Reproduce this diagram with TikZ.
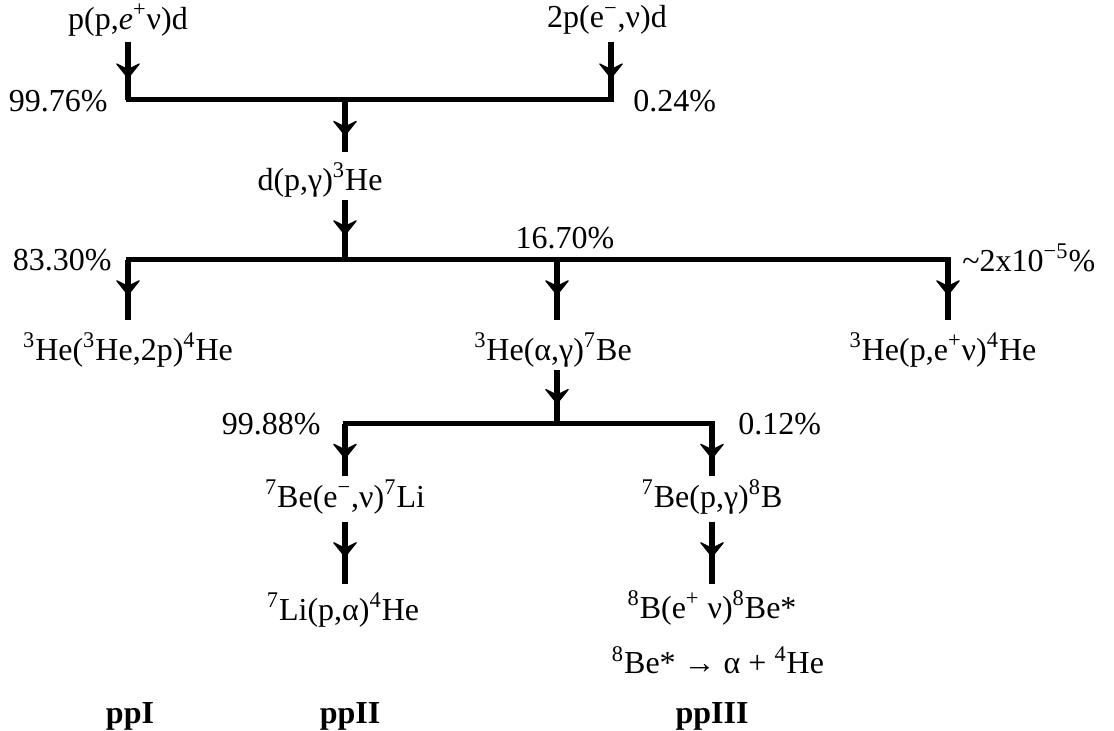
\documentclass[tikz,border=0pt]{standalone}
\usepackage{fontspec}
\setmainfont{Liberation Serif}
\usetikzlibrary{decorations.markings}
\newcommand{\sps}[1]{\textsuperscript{#1}}
\begin{document}
\begin{tikzpicture}[x=0.5pt,y=-0.5pt,
  txt/.style={inner sep=1pt,font=\fontsize{16}{19}\selectfont},
  lbl/.style={txt},
  chain/.style={line width=2.5pt,line cap=rect},
  flow/.style={line width=2.6pt,
    decoration={markings,mark=at position #1 with {
      \filldraw[line width=0.6pt,line join=round]
        (0pt,0pt) -- (-7pt,5.6pt) -- (-4.2pt,0pt) -- (-7pt,-5.6pt) -- cycle;}},
    postaction={decorate}},
  flow/.default=0.6,
  tag/.style={font=\fontsize{16}{19}\selectfont\bfseries}]
\useasboundingbox (0,0) rectangle (1114,731);

% reactions
\node[txt] (pp)   at (128,20)  {p(p,\textit{e}\sps{+}ν)d};
\node[txt] (pep)  at (607,20)  {2p(e\sps{−},ν)d};
\node[txt] (dpg)  at (320,180) {d(p,γ)\sps{3}He};
\node[txt] (he33) at (128,350) {\sps{3}He(\sps{3}He,2p)\sps{4}He};
\node[txt] (he34) at (553,350) {\sps{3}He(α,γ)\sps{7}Be};
\node[txt] (hep)  at (943,350) {\sps{3}He(p,e\sps{+}ν)\sps{4}He};
\node[txt] (be7e) at (345,497) {\sps{7}Be(e\sps{−},ν)\sps{7}Li};
\node[txt] (li7)  at (343,610) {\sps{7}Li(p,α)\sps{4}He};
\node[txt] (be7p) at (712,497) {\sps{7}Be(p,γ)\sps{8}B};
\node[txt] (b8)   at (712,608) {\sps{8}B(e\sps{+} ν)\sps{8}Be*};
\node[txt] (be8)  at (718,660) {\sps{8}Be* → α + \sps{4}He};

% branch labels
\node[tag] (ppI)   at (130,716) {ppI};
\node[tag] (ppII)  at (350,716) {ppII};
\node[tag] (ppIII) at (712,716) {ppIII};

% junction points
\coordinate (a1) at (128,42);   \coordinate (a1e) at (128,100);
\coordinate (a2) at (611,42);   \coordinate (a2e) at (611,100);
\coordinate (m1) at (345,100);  \coordinate (m1e) at (345,152);
\coordinate (m2) at (345,200);  \coordinate (m2e) at (345,260);
\coordinate (c1) at (128,260);  \coordinate (c1e) at (128,320);
\coordinate (c2) at (557,260);  \coordinate (c2e) at (557,320);
\coordinate (c3) at (948,260);  \coordinate (c3e) at (948,320);
\coordinate (d0) at (557,370);  \coordinate (d0e) at (557,424);
\coordinate (d1) at (345,424);  \coordinate (d1e) at (345,476);
\coordinate (d2) at (712,424);  \coordinate (d2e) at (712,476);
\coordinate (e1) at (345,522);  \coordinate (e1e) at (345,584);
\coordinate (e2) at (712,522);  \coordinate (e2e) at (712,584);

% horizontal bars
\draw[chain] (a1e) -- (a2e);
\draw[chain] (c1) -- (c3);
\draw[chain] (d1) -- (d2);

% arrows
\draw[flow=0.62] (a1) -- (a1e);
\draw[flow=0.62] (a2) -- (a2e);
\draw[flow=0.68] (m1) -- (m1e);
\draw[flow=0.58] (m2) -- (m2e);
\draw[flow=0.58] (c1) -- (c1e);
\draw[flow=0.58] (c2) -- (c2e);
\draw[flow=0.58] (c3) -- (c3e);
\draw[flow=0.62] (d0) -- (d0e);
\draw[flow=0.66] (d1) -- (d1e);
\draw[flow=0.66] (d2) -- (d2e);
\draw[flow=0.56] (e1) -- (e1e);
\draw[flow=0.56] (e2) -- (e2e);

% branching ratios
\node[lbl,anchor=east] (r1) at (110,101) {99.76\%};
\node[lbl,anchor=west] (r2) at (631,101) {0.24\%};
\node[lbl,anchor=east] (r3) at (114,260) {83.30\%};
\node[lbl] (r4) at (565,238) {16.70\%};
\node[lbl,anchor=west] (r5) at (960,258) {\textasciitilde2x10\sps{−5}\%};
\node[lbl,anchor=east] (r6) at (323,424) {99.88\%};
\node[lbl,anchor=west] (r7) at (736,424) {0.12\%};
\end{tikzpicture}
\end{document}
